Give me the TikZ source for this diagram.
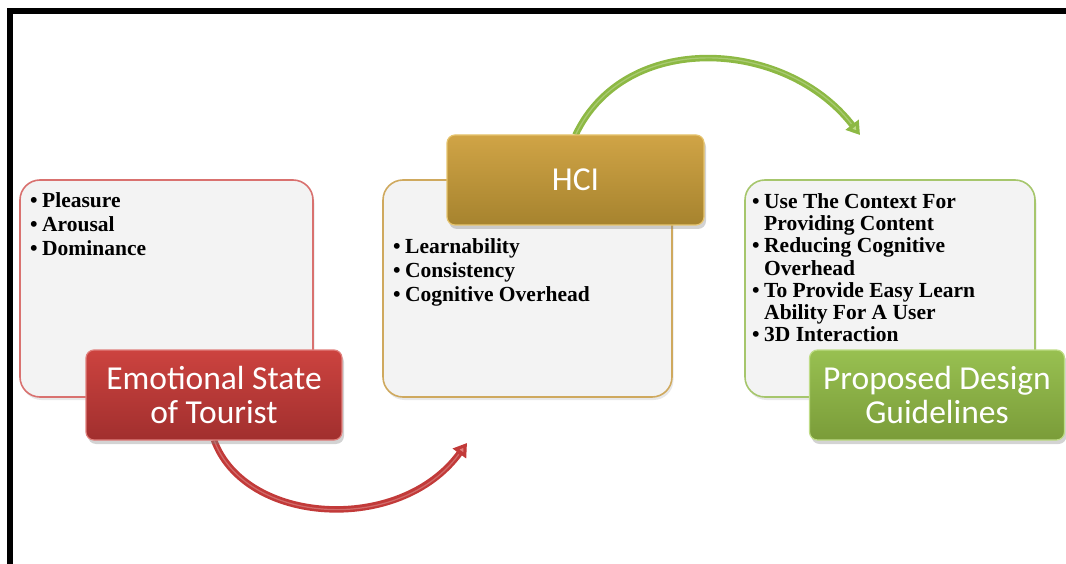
\documentclass[tikz,border=0pt]{standalone}
\usepackage{fontspec}
\setmainfont{Liberation Serif}
\newfontfamily\lblfont{Carlito}
\usetikzlibrary{arrows.meta,shadows}

\definecolor{redA}{HTML}{CC433F}
\definecolor{redB}{HTML}{A12F2E}
\definecolor{redE}{HTML}{D9716F}
\definecolor{redH}{HTML}{E0807D}
\definecolor{goldA}{HTML}{D0A446}
\definecolor{goldB}{HTML}{A6832E}
\definecolor{goldE}{HTML}{CFA95E}
\definecolor{goldH}{HTML}{E6C46E}
\definecolor{grnA}{HTML}{98C051}
\definecolor{grnB}{HTML}{7A9C39}
\definecolor{grnE}{HTML}{A6C66C}
\definecolor{grnH}{HTML}{BEDC86}
\definecolor{redS}{HTML}{C23A39}
\definecolor{grnS}{HTML}{8DB944}
\definecolor{boxfill}{HTML}{F3F3F3}

\begin{document}
\begin{tikzpicture}[x=1pt,y=-1pt,
  content/.style={draw=#1, line width=1.6pt, fill=boxfill, rounded corners=20pt,
    drop shadow={opacity=0.18, shadow xshift=1.5pt, shadow yshift=-3pt}},
  lbl/.style n args={3}{top color=#1, bottom color=#2, draw=#3, line width=1.2pt,
    rounded corners=8pt, text=white, align=center,
    font=\lblfont\fontsize{33.5}{34}\selectfont,
    drop shadow={opacity=0.35, shadow xshift=2pt, shadow yshift=-4pt}},
  items/.style={anchor=north west, inner sep=0pt, align=left,
    font=\bfseries\fontsize{21.5}{#1}\selectfont},
  curvearrow/.style n args={2}{draw=#1, line width=6.5pt,
    -{Triangle[width=16pt,length=13pt,fill=#2]}},
  hilite/.style={draw=white, opacity=0.25, line width=1.2pt, shorten >=14pt}
]
\useasboundingbox (0,0) rectangle (1066,564);

% frame
\draw[line width=6pt, line join=miter] (10,570) -- (10,11) -- (1070,11);

% connector end points
\coordinate (redstart) at (214,440);
\coordinate (redend) at (467,443);
\coordinate (grnstart) at (575.5,135);
\coordinate (grnend) at (860,135);

% content boxes
\node[content=redE, minimum width=293pt, minimum height=217pt] (c1) at (166.5,288.5) {};
\node[content=goldE, minimum width=289pt, minimum height=217pt] (c2) at (527.5,288.5) {};
\node[content=grnE, minimum width=290pt, minimum height=217pt] (c3) at (890,288.5) {};

% item texts
\newcommand{\itb}{\textbullet\hspace{4.5pt}}
\newcommand{\ith}{\hphantom{\textbullet\hspace{4.5pt}}}
\node[items=24] (t1) at (30,192) {\itb Pleasure\\
  \itb Arousal\\
  \itb Dominance};
\node[items=24] (t2) at (393,238) {\itb Learnability\\
  \itb Consistency\\
  \itb Cognitive Overhead};
\node[items=22.3] (t3) at (752,193) {\itb Use The Context For\\
  \ith Providing Content\\
  \itb Reducing Cognitive\\
  \ith Overhead\\
  \itb To Provide Easy Learn\\
  \ith Ability For A User\\
  \itb 3D Interaction};

% arrows (behind the labels)
\draw[curvearrow={redS}{redH}] (redstart) .. controls (245,525) and (400,535) .. (redend);
\draw[hilite] (redstart) .. controls (245,525) and (400,535) .. (redend);
\draw[curvearrow={grnS}{grnH}] (grnstart) .. controls (625,30) and (785,38) .. (grnend);
\draw[hilite] (grnstart) .. controls (625,30) and (785,38) .. (grnend);

% labels
\node[lbl={redA}{redB}{redH}, minimum width=256pt, minimum height=90pt] (l1) at (214,395)
  {Emotional State\\of Tourist};
\node[lbl={goldA}{goldB}{goldH}, minimum width=257pt, minimum height=90pt] (l2) at (575.5,180)
  {HCI};
\node[lbl={grnA}{grnB}{grnH}, minimum width=255pt, minimum height=90pt] (l3) at (937,395)
  {Proposed Design\\Guidelines};
\end{tikzpicture}
\end{document}
